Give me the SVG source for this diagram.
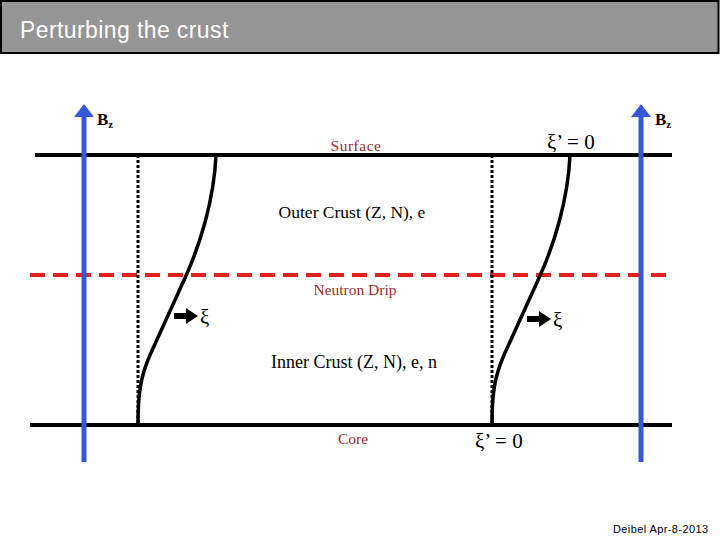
<svg xmlns="http://www.w3.org/2000/svg" width="720" height="540" viewBox="0 0 720 540">
<defs>
<style>
.title{font-family:"Liberation Sans",Arial,sans-serif;font-size:23px;letter-spacing:0.4px;fill:#ffffff}
.serif{font-family:"Liberation Serif","Times New Roman",serif;fill:#000}
.lbl{font-size:17.5px}
.lbl2{font-size:18px}
.red{font-size:15.5px;fill:#9e2a2f}
.xi{font-size:21px}
.bz{font-size:17px;font-weight:bold}
.sub{font-size:11px;font-weight:bold}
.hline{stroke:#000;stroke-width:4}
.drip{stroke:#e3211c;stroke-width:4;stroke-dasharray:15 8}
.field{stroke:#3656dc;stroke-width:5}
.fieldhead{fill:#3656dc}
.dotted{stroke:#000;stroke-width:3;stroke-dasharray:3 2}
.curve{fill:none;stroke:#000;stroke-width:3.5}
.push{stroke:#000;stroke-width:6}
.foot{font-family:"Liberation Sans",Arial,sans-serif;font-size:11px;letter-spacing:0.4px;fill:#000}
</style>
</defs>
<rect width="720" height="540" fill="#ffffff"/>
<g id="title">
<rect x="1" y="1" width="717.5" height="52" fill="#959595" stroke="#000" stroke-width="2"/>
<text class="title" x="20" y="38">Perturbing the crust</text>
</g>
<g id="layers">
<line class="hline" x1="35" y1="155" x2="672" y2="155"/>
<line class="drip" x1="30" y1="275" x2="672" y2="275"/>
<line class="hline" x1="30" y1="425" x2="672" y2="425"/>
</g>
<g id="connectors">
<line class="field" x1="84" y1="462" x2="84" y2="114"/>
<polygon class="fieldhead" points="74,117 84,104 94,117"/>
<line class="field" x1="641" y1="462" x2="641" y2="114"/>
<polygon class="fieldhead" points="631,117 641,104 651,117"/>
<line class="dotted" x1="138" y1="155" x2="138" y2="425"/>
<line class="dotted" x1="492" y1="155" x2="492" y2="425"/>
<path class="curve" d="M216,155 C214,200 200,245 185,278 C175,300 160,333 150,355 C140,378 138,395 138,425"/>
<path class="curve" d="M570,155 C568,200 554,245 539,278 C529,300 514,333 504,355 C494,378 492,395 492,425"/>
<line class="push" x1="174" y1="316" x2="188" y2="316"/>
<polygon points="186,308 198,316 186,324" fill="#000"/>
<line class="push" x1="527" y1="319" x2="541" y2="319"/>
<polygon points="539,311 551,319 539,327" fill="#000"/>
</g>
<g id="bz-left"><text class="serif bz" x="97" y="125">B<tspan class="sub" dy="3">z</tspan></text></g>
<g id="bz-right"><text class="serif bz" x="655" y="125">B<tspan class="sub" dy="3">z</tspan></text></g>
<g id="surface"><text class="serif red" x="356" y="151" text-anchor="middle" letter-spacing="0.5">Surface</text></g>
<g id="xi-top"><text class="serif xi" x="547" y="149">ξ’ = 0</text></g>
<g id="outer-crust"><text class="serif lbl" x="352" y="218" text-anchor="middle">Outer Crust (Z, N), e</text></g>
<g id="neutron-drip"><text class="serif red" x="355" y="295" text-anchor="middle">Neutron Drip</text></g>
<g id="xi-left"><text class="serif xi" x="200" y="324">ξ</text></g>
<g id="xi-right"><text class="serif xi" x="553" y="327">ξ</text></g>
<g id="inner-crust"><text class="serif lbl2" x="354" y="368" text-anchor="middle">Inner Crust (Z, N), e, n</text></g>
<g id="core"><text class="serif red" x="353" y="444" text-anchor="middle">Core</text></g>
<g id="xi-bottom"><text class="serif xi" x="475" y="448">ξ’ = 0</text></g>
<g id="footer"><text class="foot" x="613" y="533">Deibel Apr-8-2013</text></g>
</svg>
